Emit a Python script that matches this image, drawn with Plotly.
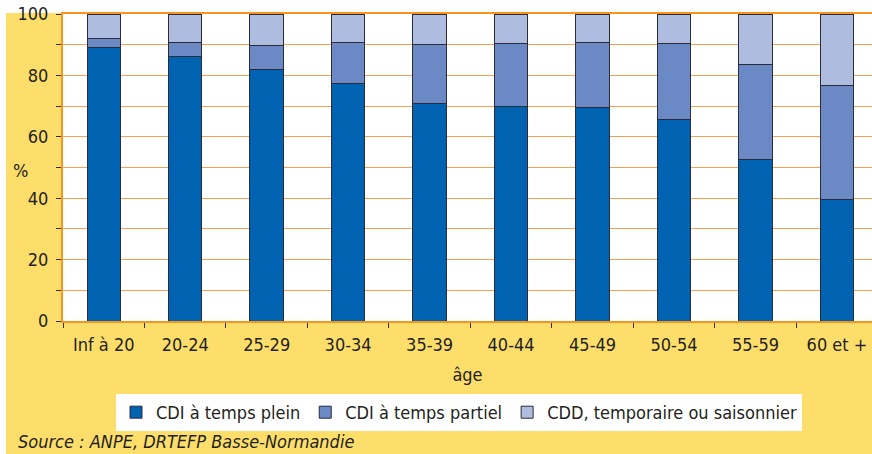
import plotly.graph_objects as go

categories = ["Inf à 20", "20-24", "25-29", "30-34", "35-39", "40-44", "45-49", "50-54", "55-59", "60 et +"]
cdi_plein = [89, 86, 82, 77.5, 71, 70, 69.5, 65.5, 52.5, 39.5]
cdi_partiel = [3, 4.6, 7.8, 13.1, 19, 20.3, 21.1, 24.9, 30.9, 37.1]
cdd = [8, 9.4, 10.2, 9.4, 10, 9.7, 9.4, 9.6, 16.6, 23.4]
series_names = ["CDI à temps plein", "CDI à temps partiel", "CDD, temporaire ou saisonnier"]
y_ticks = [0, 20, 40, 60, 80, 100]

FONT = "Liberation Sans Narrow, DejaVu Sans Condensed, Arial Narrow, sans-serif"
FS = 18
ORANGE = "#F7941D"
GRID = "#F8A050"
YELLOW = "#FEDE6B"
TXT = "#231F20"
colors = ["#0063B1", "#6A89C5", "#AEBCE0"]

fig = go.Figure()
for name, vals, col in zip(series_names, [cdi_plein, cdi_partiel, cdd], colors):
    fig.add_trace(go.Bar(
        x=categories, y=vals, name=name,
        marker=dict(color=col, line=dict(color="#2B2B3A", width=1)),
        width=0.41,
    ))

W, H = 872, 454
L, R, T, B = 63, 0, 14, 133
pw = W - L - R
ph = H - T - B

def px_x(p):
    return (p - L) / pw

def px_y(p):
    return (H - B - p) / ph

fig.update_layout(
    width=W, height=H,
    margin=dict(l=L, r=R, t=T, b=B, pad=0),
    barmode="stack",
    paper_bgcolor=YELLOW,
    plot_bgcolor="white",
    font=dict(family=FONT, size=FS, color=TXT),
    showlegend=True,
    legend=dict(
        orientation="h",
        x=px_x(116), xanchor="left",
        y=px_y(394), yanchor="top",
        bgcolor="white",
        font=dict(family=FONT, size=FS, color=TXT),
        traceorder="normal",
        itemwidth=30,
        tracegroupgap=0,
    ),
    xaxis=dict(
        range=[-0.5, 9.43],
        showline=True, linecolor=ORANGE, linewidth=2, mirror=True,
        ticks="outside", tickson="boundaries", ticklen=5, tickcolor="#333333",
        showgrid=False,
        tickfont=dict(family=FONT, size=FS, color=TXT),
        ticklabelstandoff=6,
        title=dict(text="âge", font=dict(family=FONT, size=FS, color=TXT), standoff=15),
    ),
    yaxis=dict(
        range=[0, 100],
        tickvals=y_ticks,
        showline=True, linecolor=ORANGE, linewidth=2,
        ticks="outside", ticklen=5, tickcolor="#333333",
        showgrid=True, gridcolor=GRID, gridwidth=1,
        minor=dict(dtick=10, tick0=0, ticks="outside", ticklen=5, tickcolor="#333333",
                   showgrid=True, gridcolor=GRID, gridwidth=1),
        tickfont=dict(family=FONT, size=FS, color=TXT),
        ticklabelstandoff=4,
        zeroline=False,
        layer="below traces",
    ),
    shapes=[
        dict(type="rect", xref="paper", yref="paper",
             x0=px_x(-5), x1=px_x(W + 5), y0=px_y(13), y1=px_y(-5),
             fillcolor="white", line=dict(width=0), layer="below"),
        dict(type="rect", xref="paper", yref="paper",
             x0=px_x(-5), x1=px_x(6), y0=px_y(H + 5), y1=px_y(-5),
             fillcolor="white", line=dict(width=0), layer="below"),
    ],
    annotations=[
        dict(text="%", xref="paper", yref="paper", x=px_x(20), y=px_y(170),
             xanchor="center", yanchor="middle", showarrow=False,
             font=dict(family=FONT, size=FS, color=TXT)),
        dict(text="<i>Source : ANPE, DRTEFP Basse-Normandie</i>", xref="paper", yref="paper",
             x=px_x(16), y=px_y(441), xanchor="left", yanchor="middle", showarrow=False,
             font=dict(family=FONT, size=FS, color=TXT)),
    ],
)

fig.write_html("out.html", config={"displayModeBar": False})

# remove the default page margin so the figure sits at the window's corner
with open("out.html", "r", encoding="utf-8") as f:
    html = f.read()
html = html.replace("<head>", "<head><style>html,body{margin:0;padding:0;overflow:hidden;}</style>", 1)
with open("out.html", "w", encoding="utf-8") as f:
    f.write(html)
